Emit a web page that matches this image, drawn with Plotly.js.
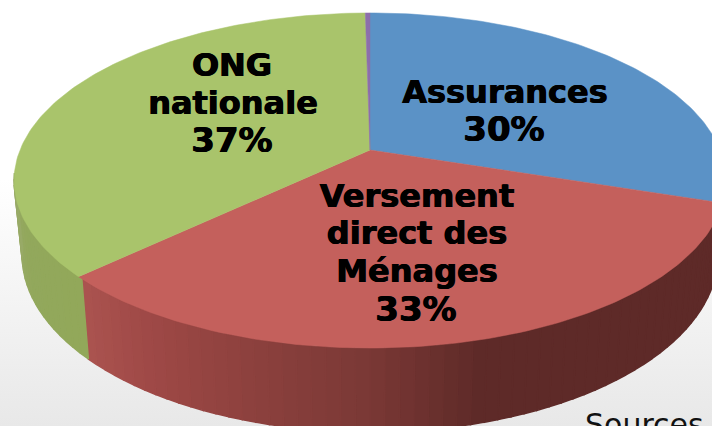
<!DOCTYPE html>
<html>
<head>
<meta charset="utf-8">
<script src="https://cdn.plot.ly/plotly-3.0.1.min.js"></script>
<style>
html,body{margin:0;padding:0;width:712px;height:426px;overflow:hidden;background:linear-gradient(180deg,#ffffff 42%,#f6f6f6 65%,#e8e8e8 100%);}
#chart{width:712px;height:426px;}
</style>
</head>
<body>
<div id="chart"></div>
<script>
// Data (share of each slice, percent, clockwise from the top)
var categories = ["Assurances", "Versement direct des Ménages", "ONG nationale", "Autres"];
var shares = [30, 33, 36.75, 0.25];
var faceColors = ["#5b92c6", "#c4605c", "#a9c46b", "#8c6fab"];

// Text labels
var labelLines = ["Assurances", "Versement", "direct des", "Ménages", "ONG", "nationale"];
var labelX = [505, 417, 417, 417, 232, 233];
var labelY = [95, 199, 236, 274, 68, 106];
var percentLabels = ["30%", "33%", "37%"];
var percentX = [504, 416, 232];
var percentY = [132, 312, 143];
var sourceText = "Sources";

// Wall shading along the rim: angle from the top (degrees) and colour
var wallAngles = [0, 108, 165, 180, 210, 226.7, 226.8, 245, 265, 360];
var wallColors = [[70,105,145],[94,42,40],[94,42,40],[122,56,53],[156,71,69],[172,84,80],[146,168,90],[146,168,92],[154,170,106],[154,170,106]];

// Perspective of the tilted disc
var apexX = 370, tilt = 0.182;
var topScaleX = 350, topScaleY = 162, topCentreY = 150;
var baseScaleX = 342, baseScaleY = 171, baseCentreY = 223;

function project(deg, sx, sy, cy) {
  var r = deg * Math.PI / 180, u = Math.sin(r), v = Math.cos(r), w = 1 + tilt * v;
  return [apexX + sx * u / w, cy - sy * v / w];
}
function wallColor(deg) {
  for (var i = 1; i < wallAngles.length; i++) {
    if (deg <= wallAngles[i]) {
      var f = (deg - wallAngles[i-1]) / (wallAngles[i] - wallAngles[i-1] || 1);
      var a = wallColors[i-1], b = wallColors[i];
      return "rgb(" + [0,1,2].map(function(k){return Math.round(a[k] + (b[k]-a[k])*f);}).join(",") + ")";
    }
  }
  return "rgb(154,170,106)";
}

var traces = [];
// rim strips (only the front of the disc is visible)
var stepDeg = 2;
for (var d = 100; d < 262; d += stepDeg) {
  var p = [project(d,topScaleX,topScaleY,topCentreY), project(d+stepDeg,topScaleX,topScaleY,topCentreY),
           project(d+stepDeg,baseScaleX,baseScaleY,baseCentreY), project(d,baseScaleX,baseScaleY,baseCentreY)];
  var c = wallColor(d + stepDeg/2);
  traces.push({type:"scatter", mode:"lines", fill:"toself", fillcolor:c, line:{color:c,width:1.5},
    x:p.map(function(q){return q[0];}).concat(p[0][0]), y:p.map(function(q){return q[1];}).concat(p[0][1]),
    hoverinfo:"skip", showlegend:false});
}
// top faces
var start = 0;
shares.forEach(function(s, i) {
  var end = start + s * 3.6, xs = [apexX], ys = [topCentreY];
  for (var a = start; a < end; a += 1) {
    var q = project(a,topScaleX,topScaleY,topCentreY); xs.push(q[0]); ys.push(q[1]);
  }
  var e = project(end,topScaleX,topScaleY,topCentreY); xs.push(e[0], apexX); ys.push(e[1], topCentreY);
  traces.push({type:"scatter", mode:"lines", fill:"toself", fillcolor:faceColors[i], line:{color:faceColors[i],width:0.5},
    x:xs, y:ys, name:categories[i], hoverinfo:"name", showlegend:false});
  start = end;
});
// labels
var heavy = "0.5px 0 0 #000, -0.5px 0 0 #000";
traces.push({type:"scatter", mode:"text", x:labelX, y:labelY, text:labelLines, textposition:"middle center",
  textfont:{family:"DejaVu Sans", size:32, color:"#000000", weight:700, shadow:heavy}, hoverinfo:"skip", showlegend:false, cliponaxis:false});
traces.push({type:"scatter", mode:"text", x:percentX, y:percentY, text:percentLabels, textposition:"middle center",
  textfont:{family:"DejaVu Sans", size:34, color:"#000000", weight:700, shadow:heavy}, hoverinfo:"skip", showlegend:false, cliponaxis:false});

var layout = {
  width:712, height:426, margin:{l:0,r:0,t:0,b:0,pad:0},
  paper_bgcolor:"rgba(0,0,0,0)", plot_bgcolor:"rgba(0,0,0,0)", showlegend:false,
  xaxis:{range:[0,712], visible:false, fixedrange:true},
  yaxis:{range:[426,0], visible:false, fixedrange:true},
  annotations:[{text:sourceText, xref:"x", yref:"y", x:584, y:424, xanchor:"left", yanchor:"middle",
    showarrow:false, borderpad:0, font:{family:"DejaVu Sans", size:30, color:"#111111"}}]
};
Plotly.newPlot("chart", traces, layout, {displayModeBar:false, staticPlot:true});
</script>
</body>
</html>
